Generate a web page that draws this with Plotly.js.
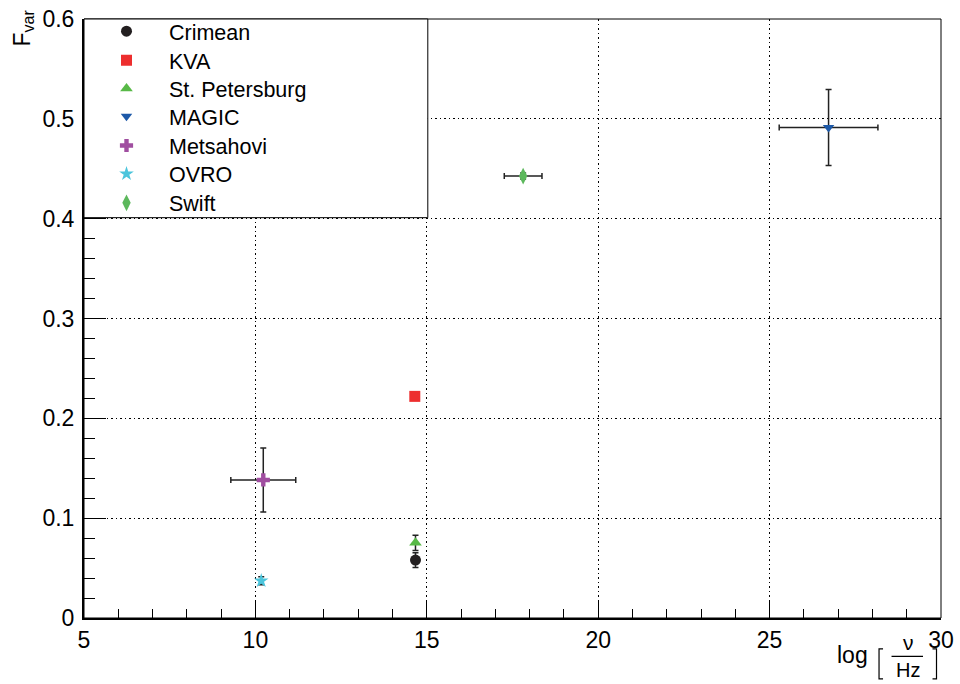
<!DOCTYPE html>
<html>
<head>
<meta charset="utf-8">
<script src="https://cdn.plot.ly/plotly-3.0.1.min.js"></script>
<style>html,body{margin:0;padding:0;background:#fff;}#chart{width:960px;height:684px;}</style>
</head>
<body>
<div id="chart"></div>
<script>
// ---- data ----
const series   = ['Crimean', 'KVA', 'St. Petersburg', 'MAGIC', 'Metsahovi', 'OVRO', 'Swift'];
const logNu    = [14.67, 14.65, 14.67, 26.72, 10.23, 10.17, 17.81];
const logNuErr = [0, 0, 0, 1.44, 0.947, 0, 0.55];
const fvar     = [0.058, 0.222, 0.0753, 0.4913, 0.1383, 0.0373, 0.4427];
const fvarErr  = [0.0073, 0.002, 0.0077, 0.038, 0.032, 0.004, 0.003];

// ---- styles ----
const markerColors  = ['#231f20', '#ed2e2e', '#58b947', '#1d59a8', '#a04ea0', '#4cc5dc', '#5cb85c'];
const markerSymbols = ['circle', 'square', 'triangle-up', 'triangle-down', 'cross', 'star', 'diamond-tall'];
const markerSizes   = [11, 11, 11, 10, 11, 11, 12];
const legendRowY    = [31.7, 60.7, 89, 116.7, 146, 174.3, 203.3];   // pixel centres of legend rows

const FONT = 'Liberation Sans, Arial, Helvetica, sans-serif';
const L = 84, R = 18.5, T = 18, B = 66, W = 960, H = 684;
const pw = W - L - R, ph = H - T - B;
const px = v => (v - L) / pw;           // pixel -> paper x
const py = v => (H - B - v) / ph;       // pixel -> paper y
const LEG_FONT = 21.5;

const legendName = i => (i === 0 ? 'legend' : 'legend' + (i + 1));

const traces = series.map((name, i) => ({
  type: 'scatter',
  mode: 'markers',
  name: name,
  legend: legendName(i),
  x: [logNu[i]],
  y: [fvar[i]],
  marker: {color: markerColors[i], symbol: markerSymbols[i], size: markerSizes[i], line: {width: 0}},
  error_y: {type: 'data', array: [fvarErr[i]], visible: fvarErr[i] > 0, color: '#222', thickness: 1.5, width: 3},
  error_x: {type: 'data', array: [logNuErr[i]], visible: logNuErr[i] > 0, color: '#222', thickness: 1.5, width: 3}
}));

const shapes = [
  // frame
  {type: 'rect', xref: 'paper', yref: 'paper', x0: 0, x1: 1, y0: 0, y1: 1, line: {color: '#000', width: 1}, layer: 'above'},
  // legend box
  {type: 'rect', xref: 'paper', yref: 'paper', x0: px(84), x1: px(428), y0: py(217), y1: 1,
   fillcolor: '#fff', line: {color: '#000', width: 1}, layer: 'above'},
  // x-title brackets and fraction bar
  {type: 'path', xref: 'paper', yref: 'paper',
   path: `M ${px(883.5)} ${py(649)} L ${px(879.5)} ${py(649)} L ${px(879.5)} ${py(679)} L ${px(883.5)} ${py(679)}`,
   line: {color: '#000', width: 1.2}},
  {type: 'path', xref: 'paper', yref: 'paper',
   path: `M ${px(933)} ${py(649)} L ${px(937)} ${py(649)} L ${px(937)} ${py(679)} L ${px(933)} ${py(679)}`,
   line: {color: '#000', width: 1.2}},
  {type: 'line', xref: 'paper', yref: 'paper', x0: px(892), x1: px(923.5), y0: py(656.5), y1: py(656.5),
   line: {color: '#000', width: 1.3}}
];

const annotations = [
  {xref: 'paper', yref: 'paper', x: px(23.5), y: py(27), xanchor: 'center', yanchor: 'middle', showarrow: false,
   text: 'F<sub>var</sub>', textangle: -90, font: {family: FONT, size: 23, color: '#000'}},
  {xref: 'paper', yref: 'paper', x: px(853), y: py(655), xanchor: 'center', yanchor: 'middle', showarrow: false,
   text: 'log', font: {family: FONT, size: 23, color: '#000'}},
  {xref: 'paper', yref: 'paper', x: px(909), y: py(643), xanchor: 'center', yanchor: 'middle', showarrow: false,
   text: 'ν', font: {family: FONT, size: 21, color: '#000'}},
  {xref: 'paper', yref: 'paper', x: px(908.5), y: py(670.5), xanchor: 'center', yanchor: 'middle', showarrow: false,
   text: 'Hz', font: {family: FONT, size: 20, color: '#000'}}
];

const layout = {
  width: W, height: H,
  margin: {l: L, r: R, t: T, b: B, pad: 0},
  paper_bgcolor: '#fff', plot_bgcolor: '#fff',
  font: {family: FONT, size: 23, color: '#000'},
  showlegend: true,
  xaxis: {
    range: [5, 30], dtick: 5, tick0: 5,
    showline: true, linecolor: '#000', linewidth: 2,
    ticks: 'inside', ticklen: 18, tickwidth: 1, tickcolor: '#000',
    minor: {dtick: 1, ticks: 'inside', ticklen: 9, tickwidth: 1, tickcolor: '#000', showgrid: false},
    showgrid: true, gridcolor: '#000', gridwidth: 1, griddash: '1.5px,3px',
    zeroline: false, tickfont: {family: FONT, size: 23, color: '#000'}
  },
  yaxis: {
    range: [0, 0.6], dtick: 0.1, tick0: 0,
    showline: true, linecolor: '#000', linewidth: 2,
    ticks: 'inside', ticklen: 22, tickwidth: 1, tickcolor: '#000', ticklabelstandoff: 3,
    minor: {dtick: 0.02, ticks: 'inside', ticklen: 11, tickwidth: 1, tickcolor: '#000', showgrid: false},
    showgrid: true, gridcolor: '#000', gridwidth: 1, griddash: '1.5px,3px',
    zeroline: false, tickfont: {family: FONT, size: 23, color: '#000'}
  },
  shapes: shapes,
  annotations: annotations
};

series.forEach((_, i) => {
  layout[legendName(i)] = {
    x: 0, xanchor: 'left', y: py(legendRowY[i] - 21), yanchor: 'top',
    bgcolor: 'rgba(0,0,0,0)', borderwidth: 0, itemwidth: 75,
    font: {family: FONT, size: LEG_FONT, color: '#000'}
  };
});

Plotly.newPlot('chart', traces, layout, {displayModeBar: false, staticPlot: true});
</script>
</body>
</html>
